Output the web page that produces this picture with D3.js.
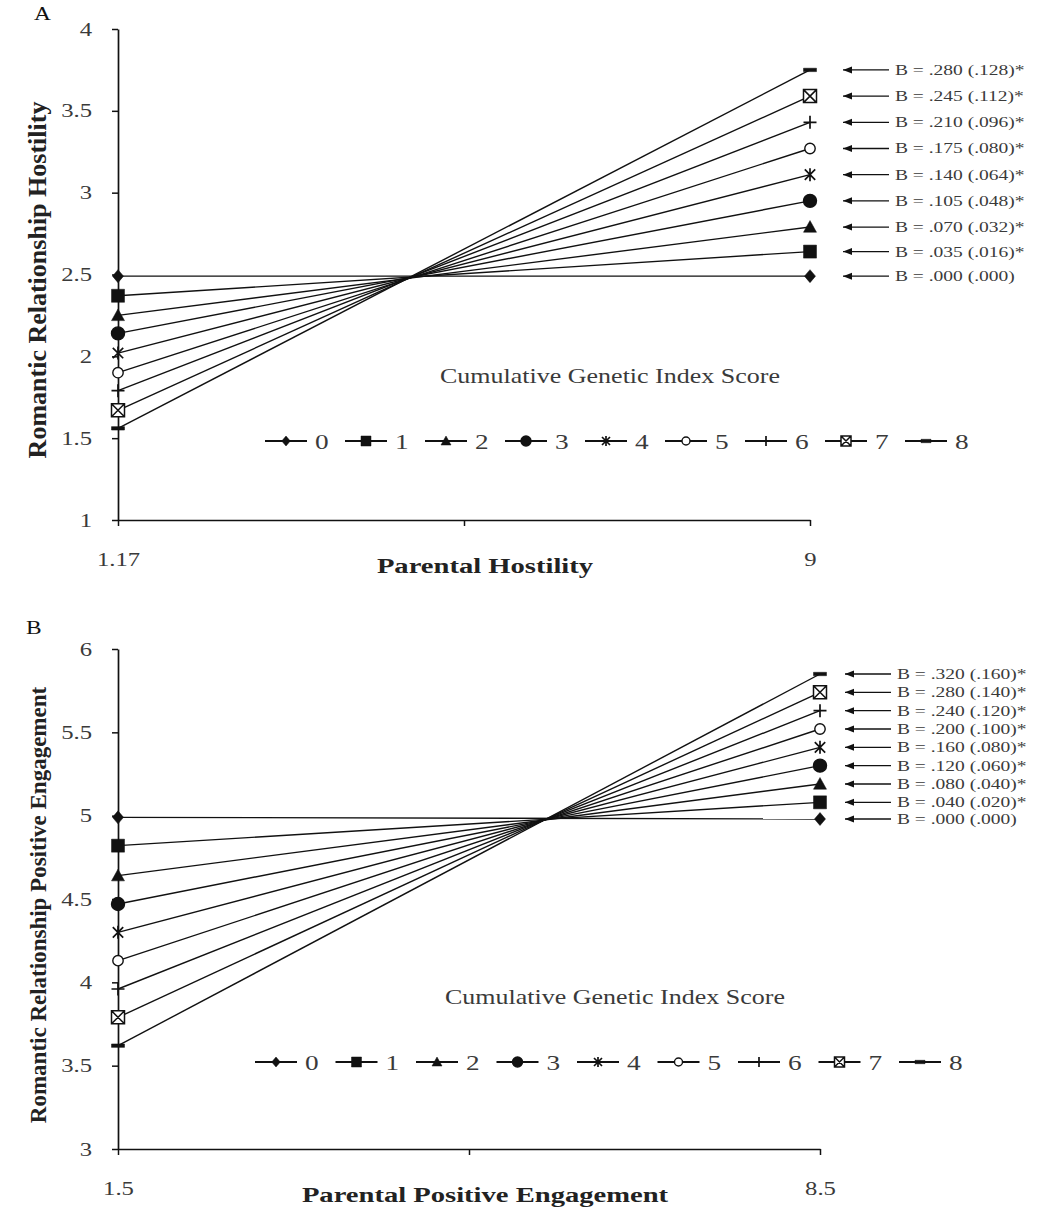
<!DOCTYPE html>
<html>
<head>
<meta charset="utf-8">
<script src="https://cdn.jsdelivr.net/npm/d3@7"></script>
<style>
  body { margin: 0; background: #fff; }
  text { font-family: "Liberation Serif", "DejaVu Serif", serif; }
</style>
</head>
<body>
<div id="chart"></div>
<script>
// genetic index scores 0..8
var scores = [0, 1, 2, 3, 4, 5, 6, 7, 8];

// panel A: romantic hostility at low / high parental hostility
var xA = [1.17, 9];
var lowA  = [2.49, 2.37, 2.25, 2.14, 2.02, 1.90, 1.79, 1.67, 1.56];
var highA = [2.49, 2.64, 2.79, 2.95, 3.11, 3.27, 3.43, 3.59, 3.75];
var labelsA = ["B = .000 (.000)", "B = .035 (.016)*", "B = .070 (.032)*", "B = .105 (.048)*",
  "B = .140 (.064)*", "B = .175 (.080)*", "B = .210 (.096)*", "B = .245 (.112)*", "B = .280 (.128)*"];
var yTicksA = [1, 1.5, 2, 2.5, 3, 3.5, 4];

// panel B: romantic positive engagement at low / high parental engagement
var xB = [1.5, 8.5];
var lowB  = [4.99, 4.82, 4.64, 4.47, 4.30, 4.13, 3.96, 3.79, 3.62];
var highB = [4.98, 5.08, 5.19, 5.30, 5.41, 5.52, 5.63, 5.74, 5.85];
var labelsB = ["B = .000 (.000)", "B = .040 (.020)*", "B = .080 (.040)*", "B = .120 (.060)*",
  "B = .160 (.080)*", "B = .200 (.100)*", "B = .240 (.120)*", "B = .280 (.140)*", "B = .320 (.160)*"];
var yTicksB = [3, 3.5, 4, 4.5, 5, 5.5, 6];

var W = 1055, H = 1210;
var SX = 1.3; // source picture is stretched horizontally
var ink = "#111", grey = "#3a3a3a";

var svg = d3.select("#chart").append("svg")
  .attr("width", W).attr("height", H);

// marker shapes, centred on 0,0, half size s
function marker(g, k, s) {
  var filled = k <= 3 || k == 8;
  var p;
  if (k == 0) p = "M0," + (-s) + "L" + (s * 0.85) + ",0L0," + s + "L" + (-s * 0.85) + ",0Z";
  else if (k == 1) p = "M" + (-s) + "," + (-s) + "H" + s + "V" + s + "H" + (-s) + "Z";
  else if (k == 2) p = "M0," + (-s) + "L" + s + "," + (s * 0.8) + "L" + (-s) + "," + (s * 0.8) + "Z";
  else if (k == 3 || k == 5) {
    g.append("circle").attr("r", k == 3 ? s : s * 0.8)
      .attr("fill", k == 3 ? ink : "#fff").attr("stroke", ink).attr("stroke-width", 1.4);
    return;
  }
  else if (k == 4) p = "M" + (-s * 0.8) + "," + (-s * 0.8) + "L" + (s * 0.8) + "," + (s * 0.8) +
    "M" + (s * 0.8) + "," + (-s * 0.8) + "L" + (-s * 0.8) + "," + (s * 0.8) + "M0," + (-s) + "V" + s;
  else if (k == 6) p = "M" + (-s) + ",0H" + s + "M0," + (-s) + "V" + s;
  else if (k == 7) p = "M" + (-s) + "," + (-s) + "H" + s + "V" + s + "H" + (-s) + "Z" +
    "M" + (-s) + "," + (-s) + "L" + s + "," + s + "M" + s + "," + (-s) + "L" + (-s) + "," + s;
  else p = "M" + (-s) + ",-1.7H" + s + "V1.7H" + (-s) + "Z";
  g.append("path").attr("d", p)
    .attr("fill", filled ? ink : (k == 7 ? "#fff" : "none"))
    .attr("stroke", ink).attr("stroke-width", k == 4 || k == 6 ? 1.7 : (filled ? 0.5 : 1.5));
}

// stretched text helper (rotated text is not stretched along its length)
function stext(x, y, str, opt) {
  opt = opt || {};
  var tf = "translate(" + x + "," + y + ")" + (opt.rot ? " rotate(-90)" : " scale(" + SX + ",1)");
  return svg.append("text")
    .attr("transform", tf)
    .attr("text-anchor", opt.anchor || "start")
    .attr("font-size", opt.size || 16)
    .attr("font-weight", opt.bold ? "bold" : "normal")
    .attr("fill", opt.color || grey)
    .text(str);
}

function panel(cfg) {
  var x = d3.scaleLinear().domain(cfg.xdom).range(cfg.xr);
  var y = d3.scaleLinear().domain(cfg.ydom).range(cfg.yr);

  // y axis
  var ya = svg.append("g").attr("transform", "translate(" + cfg.xr[0] + ",0)")
    .call(d3.axisLeft(y).tickValues(cfg.yticks).tickSize(6).tickSizeOuter(0).tickPadding(20)
      .tickFormat(d3.format("")));
  // x axis with a middle tick and only end labels
  var mid = (cfg.xdom[0] + cfg.xdom[1]) / 2;
  var xa = svg.append("g").attr("transform", "translate(0," + cfg.yr[0] + ")")
    .call(d3.axisBottom(x).tickValues([cfg.xdom[0], mid, cfg.xdom[1]]).tickSize(6).tickSizeOuter(0)
      .tickPadding(27).tickFormat(function(d) { return d == mid ? "" : String(d); }));
  [ya, xa].forEach(function(a) {
    a.select(".domain").attr("stroke", ink).attr("stroke-width", 1.7);
    a.selectAll(".tick line").attr("stroke", ink).attr("stroke-width", 1.5);
    a.selectAll(".tick text").attr("font-family", "Liberation Serif").attr("font-size", 19)
      .attr("fill", grey)
      .each(function() {
        var t = d3.select(this);
        t.attr("x", (+t.attr("x") || 0) / SX).attr("transform", "scale(" + SX + ",1)");
      });
  });

  // lines for each score
  var line = d3.line().x(function(d) { return x(d[0]); }).y(function(d) { return y(d[1]); });
  svg.append("g").selectAll("path").data(scores).join("path")
    .attr("d", function(k) { return line([[cfg.xdom[0], cfg.low[k]], [cfg.xdom[1], cfg.high[k]]]); })
    .attr("fill", "none").attr("stroke", ink).attr("stroke-width", 1.4);

  // end markers
  scores.forEach(function(k) {
    marker(svg.append("g").attr("transform", "translate(" + x(cfg.xdom[0]) + "," + y(cfg.low[k]) + ")"), k, 6.5);
    marker(svg.append("g").attr("transform", "translate(" + x(cfg.xdom[1]) + "," + y(cfg.high[k]) + ")"), k, 6.5);
  });

  // slope annotations with arrows
  scores.forEach(function(k) {
    var yy = y(cfg.high[k]);
    var ax = cfg.arrowX;
    svg.append("line").attr("x1", ax).attr("x2", ax + 46).attr("y1", yy).attr("y2", yy)
      .attr("stroke", ink).attr("stroke-width", 1.3);
    svg.append("path").attr("d", "M" + ax + "," + yy + "L" + (ax + 9) + "," + (yy - 3.5) + "L" + (ax + 9) + "," + (yy + 3.5) + "Z")
      .attr("fill", ink);
    stext(ax + 52, yy + 5, cfg.labels[k], { size: 15 });
  });

  // legend
  stext(cfg.legTitleX, cfg.legY - 58, "Cumulative Genetic Index Score", { size: 20, anchor: "middle" });
  scores.forEach(function(k) {
    var lx = cfg.legX + k * cfg.legStep;
    svg.append("line").attr("x1", lx).attr("x2", lx + 42).attr("y1", cfg.legY).attr("y2", cfg.legY)
      .attr("stroke", ink).attr("stroke-width", 1.8);
    marker(svg.append("g").attr("transform", "translate(" + (lx + 21) + "," + cfg.legY + ")"), k, 5);
    stext(lx + 50, cfg.legY + 8, String(k), { size: 21 });
  });

  // titles
  stext(cfg.letter[0], cfg.letter[1], cfg.letterText, { size: 18, color: ink });
  stext(cfg.xtitle[0], cfg.xtitle[1], cfg.xtitleText, { size: 22, bold: true, anchor: "middle", color: "#222" });
  stext(cfg.ytitle[0], cfg.ytitle[1], cfg.ytitleText, { size: cfg.ytitleSize, bold: true, anchor: "middle", rot: true, color: "#222" });
}

panel({
  xdom: xA, ydom: [1, 4], xr: [118, 810], yr: [520, 29], yticks: yTicksA,
  low: lowA, high: highA, labels: labelsA, arrowX: 843,
  legX: 265, legY: 441, legStep: 80, legTitleX: 610,
  letter: [34, 20], letterText: "A",
  xtitle: [485, 573], xtitleText: "Parental Hostility",
  ytitle: [46, 280], ytitleText: "Romantic Relationship Hostility", ytitleSize: 26
});

panel({
  xdom: xB, ydom: [3, 6], xr: [118, 820], yr: [1149, 649], yticks: yTicksB,
  low: lowB, high: highB, labels: labelsB, arrowX: 845,
  legX: 255, legY: 1062, legStep: 80.5, legTitleX: 615,
  letter: [26, 634], letterText: "B",
  xtitle: [485, 1202], xtitleText: "Parental Positive Engagement",
  ytitle: [46, 905], ytitleText: "Romantic Relationship Positive Engagement", ytitleSize: 23
});
</script>
</body>
</html>
